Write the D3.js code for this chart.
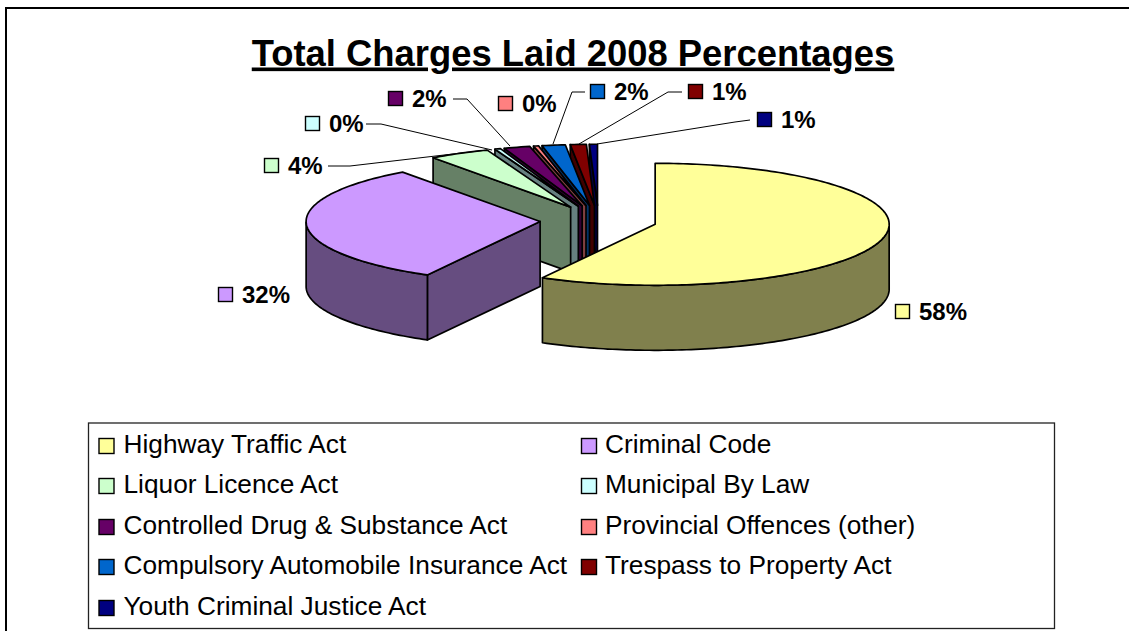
<!DOCTYPE html>
<html><head><meta charset="utf-8">
<script src="https://cdn.jsdelivr.net/npm/d3@7/dist/d3.min.js"></script>
<style>html,body{margin:0;padding:0;background:#fff}svg{display:block}text{font-family:"Liberation Sans",Arial,sans-serif;fill:#000}</style>
</head><body><svg id="c" width="1129" height="631"></svg>
<script>
const categories=["Highway Traffic Act","Criminal Code","Liquor Licence Act","Municipal By Law","Controlled Drug & Substance Act","Provincial Offences (other)","Compulsory Automobile Insurance Act","Trespass to Property Act","Youth Criminal Justice Act"];
const shares=[58,32,4.2,0.4,1.8,0.35,1.6,1.1,0.55];
const colours=["#FFFF99","#CC99FF","#CCFFCC","#CCFFFF","#660066","#FF8080","#0066CC","#800000","#000080"];
const titleText="Total Charges Laid 2008 Percentages";
// layout, separate from the data
const labelBoxes=[[895,304],[218,287],[264,158],[305,116],[388,91],[498,96],[590,84],[688,84],[757,112]];
const leaders=[null,null,
 [[328,166],[350,166],[487,150]],
 [[366,124],[381,124],[492,150]],
 [[453,99],[467,99],[510,146]],
 null,
 [[585,92],[572,92],[553,144]],
 [[682,92],[668,92],[579,144]],
 [[750,120],[735,122],[597,144]]];
const legendCols=[99,581.5], legendTextX=[123.5,605], legendRowY=[445,485,526,566,607];

const svg=d3.select("#c");
const CX=598.5,CY=220.5,RX=234,RY=61,DEPTH=65,EXPLODE=0.25;
const px=d3.scaleLinear().domain([-1,1]).range([CX-RX,CX+RX]);
const py=d3.scaleLinear().domain([-1,1]).range([CY-RY,CY+RY]);
const total=d3.sum(shares);
const pct=d3.format(".0f");
const arcs=d3.pie().sort(null).value(d=>d)(shares);
const lineGen=d3.line();

svg.append("rect").attr("x",6).attr("y",8).attr("width",1140).attr("height",640).attr("fill","#fff").attr("stroke","#000").attr("stroke-width",2);

svg.append("text").attr("x",573).attr("y",65.5).attr("text-anchor","middle").attr("font-size",36.4).attr("font-weight","bold").attr("text-decoration","underline").text(titleText);

function shade(c){const k=d3.rgb(c);return d3.rgb(k.r*.5,k.g*.5,k.b*.5).formatHex();}
function slice(a){
  const mid=(a.startAngle+a.endAngle)/2;
  const ox=EXPLODE*Math.sin(mid), oy=-EXPLODE*Math.cos(mid);
  const P=(ang,r,dz=0)=>[px(ox+r*Math.sin(ang)),py(oy-r*Math.cos(ang))+dz];
  const n=Math.max(2,Math.ceil((a.endAngle-a.startAngle)/0.02));
  const angs=d3.range(n+1).map(i=>a.startAngle+(a.endAngle-a.startAngle)*i/n);
  return {P,angs};
}
// back to front: small slices from the top right, then the two large ones
const order=[8,7,6,5,4,3,2,1,0];
order.forEach(i=>{
  const a=arcs[i], {P,angs}=slice(a), c=colours[i], dk=shade(c);
  const g=svg.append("g").attr("stroke","#000").attr("stroke-width",1.7).attr("stroke-linejoin","round");
  if(Math.sin(a.startAngle)<0){
    const c0=P(0,0),o0=P(a.startAngle,1);
    g.append("path").attr("fill",dk).attr("d",lineGen([c0,o0,[o0[0],o0[1]+DEPTH],[c0[0],c0[1]+DEPTH]])+"Z");
  }
  const front=angs.filter(t=>Math.cos(t)<=0);
  if(front.length>1){
    const up=front.map(t=>P(t,1)), dn=front.map(t=>P(t,1,DEPTH)).reverse();
    g.append("path").attr("fill",dk).attr("d",lineGen(up.concat(dn))+"Z");
  }
  g.append("path").attr("fill",c).attr("d",lineGen([P(0,0)].concat(angs.map(t=>P(t,1))))+"Z");
});

// data labels
arcs.forEach((a,i)=>{
  const [bx,by]=labelBoxes[i];
  if(leaders[i]) svg.append("path").attr("d",lineGen(leaders[i])).attr("fill","none").attr("stroke","#000").attr("stroke-width",1);
  svg.append("rect").attr("x",bx+.5).attr("y",by+.5).attr("width",14).attr("height",14).attr("fill",colours[i]).attr("stroke","#000").attr("stroke-width",1.4);
  svg.append("text").attr("x",bx+24).attr("y",by+16).attr("font-size",24).attr("font-weight","bold").text(pct(a.value/total*100)+"%");
});

// legend
svg.append("rect").attr("x",88.5).attr("y",423).attr("width",966).attr("height",205.5).attr("fill","#fff").attr("stroke","#222").attr("stroke-width",1.3);
categories.forEach((name,i)=>{
  const x=legendCols[i%2], y=legendRowY[Math.floor(i/2)];
  svg.append("rect").attr("x",x).attr("y",y-6.5).attr("width",15).attr("height",15).attr("fill",colours[i]).attr("stroke","#000").attr("stroke-width",1.4);
  svg.append("text").attr("x",legendTextX[i%2]).attr("y",y+8).attr("font-size",26.25).text(name);
});
</script></body></html>
